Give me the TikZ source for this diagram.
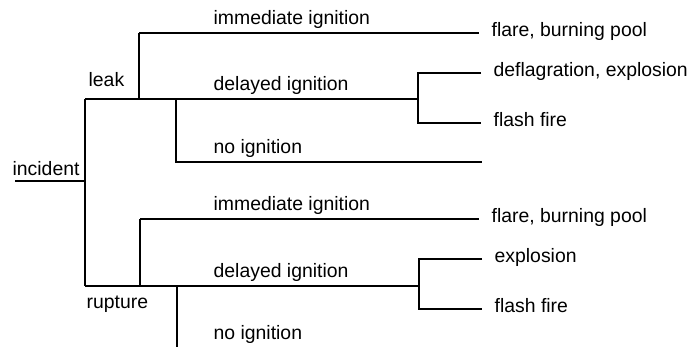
\documentclass[tikz,border=0pt]{standalone}
\usepackage{fontspec}
\setmainfont{Liberation Sans}
\usetikzlibrary{positioning}

\begin{document}
\begin{tikzpicture}[
    x=0.5pt, y=-0.5pt,
    every node/.style={font=\fontsize{9.7}{11}\selectfont, inner sep=0pt},
    every path/.style={line width=0.65pt},
    branch/.style={anchor=base west},
    outcome/.style={right=6pt of #1, anchor=mid west, yshift=0.7pt},
    node distance=6pt]

    \useasboundingbox (0,0) rectangle (691,347);

    % trunk
    \coordinate (incL) at (15,181);
    \coordinate (inc) at (85,181);
    \coordinate (leak) at (85,99);
    \coordinate (rup) at (85,286);

    % leak branch points
    \coordinate (lkI) at (139,33);
    \coordinate (lk) at (139,99);
    \coordinate (lkN) at (176,99);
    \coordinate (lkNend) at (176,162);
    \coordinate (lkNfin) at (482,162);
    \coordinate (lkIend) at (479,33);
    \coordinate (lkD) at (418,99);
    \coordinate (lkDa) at (418,73);
    \coordinate (lkDb) at (418,123);
    \coordinate (lkDaend) at (481,73);
    \coordinate (lkDbend) at (481,123);

    % rupture branch points
    \coordinate (rpI) at (140,219);
    \coordinate (rp) at (140,286);
    \coordinate (rpN) at (177,286);
    \coordinate (rpNend) at (177,347);
    \coordinate (rpIend) at (479,219);
    \coordinate (rpD) at (419,286);
    \coordinate (rpDa) at (419,259);
    \coordinate (rpDb) at (419,309);
    \coordinate (rpDaend) at (482,259);
    \coordinate (rpDbend) at (482,309);

    % labels
    \node[branch] (tInc) at (12,176) {incident};
    \node[branch] (tLeak) at (88,87) {leak};
    \node[branch] (tRup) at (86,309) {rupture};

    \node[branch] (tLkI) at (213,24.5) {immediate ignition};
    \node[branch] (tLkD) at (213,90.5) {delayed ignition};
    \node[branch] (tLkN) at (213,153.5) {no ignition};
    \node[branch] (tRpI) at (213,210.5) {immediate ignition};
    \node[branch] (tRpD) at (213,277.5) {delayed ignition};
    \node[branch] (tRpN) at (213,340) {no ignition};

    \node[outcome=lkIend] (oLkI) {flare, burning pool};
    \node[outcome=lkDaend] (oLkDa) {deflagration, explosion};
    \node[outcome=lkDbend] (oLkDb) {flash fire};
    \node[outcome=rpIend] (oRpI) {flare, burning pool};
    \node[outcome=rpDaend] (oRpDa) {explosion};
    \node[outcome=rpDbend] (oRpDb) {flash fire};

    % lines
    \draw (incL) -- (inc);
    \draw (leak) -- (rup);
    \draw (leak) -- (lkD);
    \draw (lkI) -- (lk);
    \draw (lkI) -- (lkIend);
    \draw (lkN) -- (lkNend) -- (lkNfin);
    \draw (lkDaend) -- (lkDa) -- (lkDb) -- (lkDbend);

    \draw (rup) -- (rpD);
    \draw (rpI) -- (rp);
    \draw (rpI) -- (rpIend);
    \draw (rpN) -- (rpNend);
    \draw (rpDaend) -- (rpDa) -- (rpDb) -- (rpDbend);

\end{tikzpicture}
\end{document}
